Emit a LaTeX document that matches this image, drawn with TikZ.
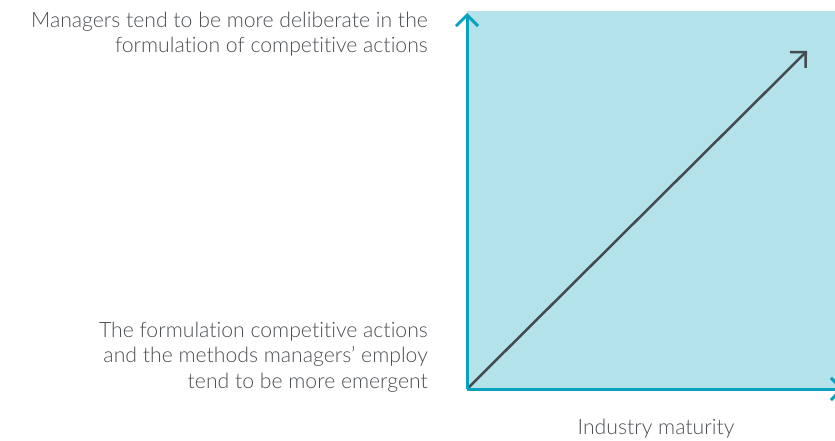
\documentclass[tikz,border=0pt]{standalone}
\usepackage{fontspec}
\setmainfont{Lato Light}[Ligatures={NoCommon}]
\usetikzlibrary{arrows.meta}
\definecolor{areafill}{HTML}{B3E2EA}
\definecolor{axiscol}{HTML}{0AA0BF}
\definecolor{diagcol}{HTML}{444A50}
\definecolor{textcol}{HTML}{4A4E53}
\tikzset{
  lbl/.style={font=\fontsize{21.2}{25.5}\selectfont, text=textcol, align=right, inner sep=0pt},
  axis/.style={draw=axiscol, line width=3pt, -{Straight Barb[length=11pt,width=22pt]}},
  trend/.style={draw=diagcol, line width=2.5pt, -{Straight Barb[length=11pt,width=22pt]}}
}
\begin{document}
\begin{tikzpicture}[x=1pt,y=-1pt]
\useasboundingbox (0,0) rectangle (835,441);
\fill[areafill] (467,11) rectangle (835,389);
\coordinate (O) at (467,389);
\coordinate (ytop) at (467,13);
\coordinate (xend) at (844,389);
\coordinate (dend) at (807,51);
\draw[trend] (O) -- (dend);
\draw[axis] (O) -- (ytop);
\draw[axis] (O) -- (xend);
\node[lbl, anchor=east] (top) at (428,34) {Managers tend to be more deliberate in the\\formulation of competitive actions};
\node[lbl, anchor=east] (bot) at (428,357) {The formulation competitive actions\\and the methods managers’ employ\\tend to be more emergent};
\node[lbl, anchor=center] (xlab) at (656,429) {Industry maturity};
\end{tikzpicture}
\end{document}
